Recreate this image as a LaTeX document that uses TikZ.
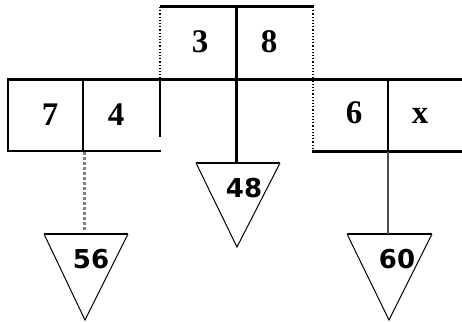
\documentclass[tikz,border=0pt]{standalone}
\usepackage{fontspec}
\setmainfont{Liberation Serif}
\newfontfamily\trisans{DejaVu Sans}
\tikzset{
  boxdigit/.style={font=\fontsize{33}{33}\selectfont\bfseries, anchor=base, inner sep=0pt},
  tridigit/.style={font=\trisans\fontsize{26}{26}\selectfont\bfseries, anchor=base, inner sep=0pt},
  heavy/.style={line width=3pt, black},
  medium/.style={line width=2pt, black},
  thinl/.style={line width=1.5pt, black},
  dotedge/.style={line width=1.2pt, black, dotted},
  graydot/.style={line width=3pt, gray, dash pattern=on 3pt off 2pt},
  grayline/.style={line width=1.4pt, gray!60!black},
  tri/.style={line width=1pt, black},
  tritop/.style={line width=2pt, black}
}
\begin{document}
\begin{tikzpicture}[x=1pt,y=-1pt]
\useasboundingbox (0,0) rectangle (462,323);
% coordinates
\coordinate (tTL) at (160,7);
\coordinate (tTR) at (314,7);
\coordinate (tML) at (160,80);
\coordinate (mTop) at (236,7);
\coordinate (hL) at (7,80);
\coordinate (hR) at (462,80);
% top box
\draw[heavy] (tTL) -- (tTR);
\draw[dotedge] (160,7) -- (tML);
\draw[dotedge] (313,7) -- (313,152);
\draw[heavy] (hL) -- (hR);
% left box
\draw[thinl] (8,80) -- (8,151);
\draw[medium] (7,151) -- (161,151);
\draw[thinl] (83,80) -- (83,151);
\draw[thinl] (160,80) -- (160,137);
% right box
\draw[heavy] (312,151) -- (462,151);
\draw[thinl] (388,80) -- (388,152);
% triangles
\coordinate (a1) at (44,234); \coordinate (a2) at (128,234); \coordinate (a3) at (85,320);
\coordinate (b1) at (196,163); \coordinate (b2) at (280,163); \coordinate (b3) at (237,247);
\coordinate (c1) at (347,234); \coordinate (c2) at (432,234); \coordinate (c3) at (389,320);
\draw[tri] (a2) -- (a3) -- (a1);
\draw[tritop] (a1) -- (a2);
\draw[tri] (b2) -- (b3) -- (b1);
\draw[tritop] (b1) -- (b2);
\draw[tri] (c2) -- (c3) -- (c1);
\draw[tritop] (c1) -- (c2);
% connectors
\coordinate (lTop) at (84,152);
\coordinate (lEnd) at (84,230);
\coordinate (mEnd) at (236,164);
\coordinate (rTop) at (388,152);
\coordinate (rEnd) at (388,234);
\draw[graydot] (lTop) -- (lEnd);
\draw[heavy] (mTop) -- (mEnd);
\draw[grayline] (rTop) -- (rEnd);
% labels
\node[boxdigit] (n3) at (200,53) {3};
\node[boxdigit] (n8) at (269,53) {8};
\node[boxdigit] (n7) at (50,125) {7};
\node[boxdigit] (n4) at (116,125) {4};
\node[boxdigit] (n6) at (354,124) {6};
\node[boxdigit] (nx) at (420,124) {x};
\node[tridigit] (t56) at (91,268) {56};
\node[tridigit] (t48) at (244,197) {48};
\node[tridigit] (t60) at (397,268) {60};
\end{tikzpicture}
\end{document}
